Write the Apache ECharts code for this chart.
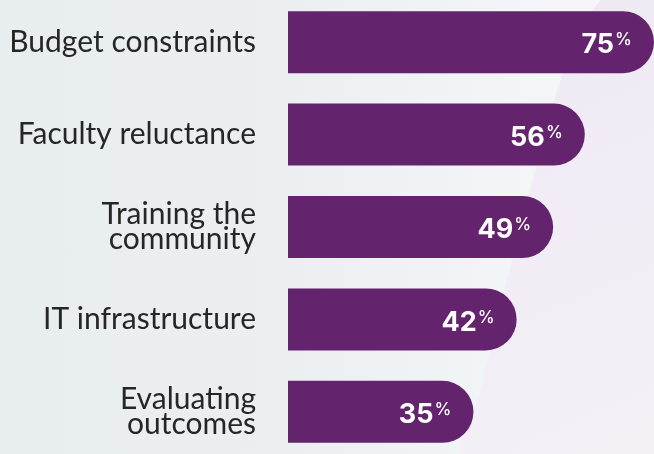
<!DOCTYPE html>
<html>
<head>
<meta charset="utf-8">
<script src="https://cdn.jsdelivr.net/npm/echarts@6/dist/echarts.min.js"></script>
<style>
  html, body { margin: 0; padding: 0; }
  body {
    width: 654px; height: 454px; overflow: hidden; position: relative;
    background: linear-gradient(90deg, #e8edf0 0%, #ebeff2 45%, #f1f4f6 70%, #f6f7f9 100%);
  }
  #chart { position: absolute; left: 0; top: -4px; width: 654px; height: 462px; }
</style>
</head>
<body>
<div id="chart"></div>
<script>
// challenges, top to bottom
const categories = [
  "Budget constraints",
  "Faculty reluctance",
  "Training the\ncommunity",
  "IT infrastructure",
  "Evaluating\noutcomes"
];
const percents = [75, 56, 49, 42, 35];

const chart = echarts.init(document.getElementById("chart"));

const option = {
  animation: false,
  backgroundColor: "transparent",
  graphic: [
    {
      // soft lavender swoosh on the right
      type: "polygon",
      z: -10,
      silent: true,
      shape: {
        points: [[606, 0], [574, 49], [547, 129], [524, 219], [502, 304], [482, 389], [466, 462], [654, 462], [654, 0]],
        smooth: 0.3
      },
      style: {
        fill: new echarts.graphic.LinearGradient(0, 0, 1, 1, [
          { offset: 0, color: "#eee8f3" },
          { offset: 1, color: "#f4f1f7" }
        ])
      }
    }
  ],
  grid: {
    left: 288,
    right: 0,
    top: 0,
    bottom: 0,
    containLabel: false
  },
  xAxis: {
    type: "log",
    min: 16,
    max: 75,
    show: false
  },
  yAxis: {
    type: "category",
    inverse: true,
    data: categories,
    axisLine: { show: false },
    axisTick: { show: false },
    splitLine: { show: false },
    axisLabel: {
      margin: 32,
      align: "right",
      color: "#262626",
      fontFamily: "Lato",
      fontSize: 30,
      lineHeight: 25,
      padding: [3, 0, 0, 0]
    }
  },
  series: [
    {
      type: "bar",
      data: percents,
      barWidth: 62,
      itemStyle: {
        color: "#64236d",
        borderRadius: [0, 31, 31, 0]
      },
      label: {
        show: true,
        position: "insideRight",
        distance: 22,
        offset: [0, 3],
        formatter: (p) => "{v|" + p.value + "}{p|%}",
        rich: {
          v: {
            color: "#ffffff",
            fontFamily: "Inter",
            fontWeight: 700,
            fontSize: 27,
            lineHeight: 27
          },
          p: {
            color: "#ffffff",
            fontFamily: "Inter",
            fontWeight: 500,
            fontSize: 17,
            lineHeight: 17,
            verticalAlign: "top",
            padding: [0, 0, 0, 1]
          }
        }
      }
    }
  ]
};

chart.setOption(option);
</script>
</body>
</html>
